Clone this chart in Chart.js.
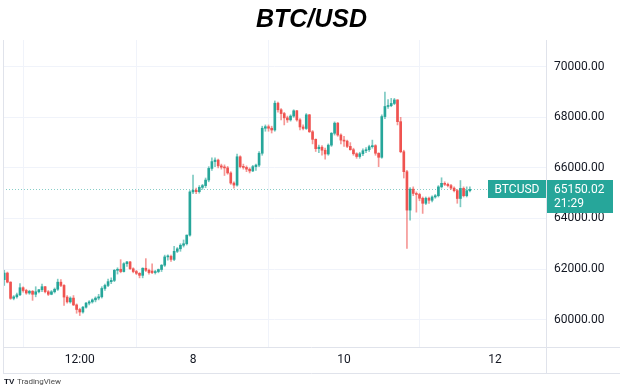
<!DOCTYPE html>
<html>
<head>
<meta charset="utf-8">
<script src="https://cdn.jsdelivr.net/npm/chart.js@4.4.1/dist/chart.umd.min.js"></script>
<style>
  html, body { margin: 0; padding: 0; background: #fff; }
</style>
</head>
<body>
<canvas id="chart" width="620" height="388"></canvas>
<script>
// hourly candles, hour 0 = the 8th 00:00
const firstHour = -60;

const opens = [
  61580, 61840, 61480, 60840, 60900, 60980, 61260, 61150, 61050, 61120,
  61000, 61100, 61180, 61300, 61100, 61000, 61100, 61200, 61480, 61350,
  60890, 60700, 60850, 60580, 60400, 60300, 60490, 60650, 60700, 60780,
  60850, 60900, 61230, 61350, 61500, 61550, 61950, 61990, 61900, 62210,
  62280, 62010, 61900, 61830, 61750, 62030, 61950, 61920, 61860, 61900,
  61980, 62150, 62480, 62500, 62380, 62700, 62800, 62940, 63000, 63340,
  65050, 65120, 65060, 65230, 65300, 65520, 65980, 66250, 66310, 66080,
  66030, 66000, 65800, 65400, 65320, 66440, 66050, 66020, 65950, 65880,
  66050, 66110, 66580, 67570, 67630, 67570, 67500, 68560, 68300, 68150,
  67980, 67900, 68050, 68260, 67900, 67620, 67560, 68100, 67430, 67130,
  66760, 66820, 66700, 66550, 66900, 67370, 67770, 67300, 67100, 67060,
  66850, 66720, 66560, 66450, 66560, 66680, 66720, 66840, 66880, 66580,
  66420, 68030, 68430, 68460, 68550, 68690, 67830, 66640, 65850, 64330,
  65160, 64990, 64950, 64800, 64600, 64800, 64720, 64850, 64900, 65250,
  65390, 65350, 65300, 65200, 65100, 64790, 65190, 64900, 65100
];
const highs = [
  61950, 61880, 61500, 60950, 61050, 61420, 61300, 61200, 61160, 61150,
  61300, 61200, 61400, 61320, 61150, 61150, 61250, 61600, 61580, 61380,
  60950, 60900, 60950, 60620, 60450, 60520, 60680, 60750, 60820, 60900,
  61000, 61300, 61400, 61600, 61650, 61980, 62050, 62370, 62250, 62300,
  62300, 62050, 61950, 61860, 62050, 62410, 62000, 62210, 61950, 62000,
  62180, 62550, 62560, 62550, 62900, 62850, 63000, 63150, 63350, 65100,
  65720, 65200, 65300, 65350, 65600, 66050, 66400, 66400, 66350, 66150,
  66120, 66060, 65850, 65450, 66550, 66480, 66150, 66080, 66000, 66100,
  66150, 66650, 67650, 67700, 67700, 67650, 68650, 68600, 68350, 68200,
  68050, 68100, 68300, 68280, 67950, 67700, 68150, 68120, 67480, 67150,
  66900, 66880, 66780, 66950, 67400, 67820, 67800, 67350, 67250, 67100,
  67000, 66780, 66600, 66620, 66750, 66800, 66900, 67100, 66920, 66600,
  68100, 69000, 68700, 68750, 68750, 68700, 68000, 66700, 65900, 65220,
  65250, 65050, 65000, 64850, 64850, 64850, 64900, 64950, 65300, 65610,
  65450, 65400, 65350, 65250, 65150, 65500, 65250, 65250, 65250
];
const lows = [
  61350, 61450, 60800, 60780, 60850, 60950, 61080, 61000, 61000, 60760,
  60900, 61050, 61100, 61050, 60950, 60980, 61050, 61150, 61300, 60560,
  60650, 60650, 60550, 60250, 60160, 60250, 60450, 60580, 60650, 60700,
  60780, 60850, 61150, 61300, 61420, 61500, 61800, 61850, 61880, 62100,
  61980, 61850, 61780, 61650, 61650, 61900, 61800, 61820, 61800, 61850,
  61900, 62100, 62350, 62300, 62330, 62650, 62700, 62870, 62950, 63300,
  64980, 64980, 65000, 65150, 65220, 65450, 65900, 66050, 66000, 65950,
  65700, 65750, 65350, 65200, 65280, 66000, 65950, 65850, 65800, 65850,
  65900, 66050, 66500, 67450, 67450, 67380, 67450, 68200, 67900, 67700,
  67800, 67850, 68000, 67850, 67500, 67500, 67520, 67400, 66950, 66650,
  66600, 66500, 66350, 66500, 66850, 67300, 67250, 66950, 66850, 66800,
  66700, 66500, 66380, 66380, 66480, 66600, 66650, 66780, 66500, 66050,
  66380, 67950, 68350, 68420, 68500, 67700, 66600, 65600, 62810, 63930,
  64900, 64250, 64700, 64200, 64550, 64600, 64650, 64800, 64850, 65200,
  65300, 65250, 65150, 65050, 64600, 64460, 64850, 64850, 65050
];
const closes = [
  61840, 61480, 60840, 60900, 60980, 61260, 61150, 61050, 61120, 61000,
  61100, 61180, 61300, 61100, 61000, 61100, 61200, 61480, 61350, 60890,
  60700, 60850, 60580, 60400, 60300, 60490, 60650, 60700, 60780, 60850,
  60900, 61230, 61350, 61500, 61550, 61950, 61990, 61900, 62210, 62280,
  62010, 61900, 61830, 61750, 62030, 61950, 61860, 61860, 61900, 61980,
  62150, 62480, 62500, 62380, 62700, 62800, 62940, 63000, 63340, 65050,
  65120, 65060, 65230, 65300, 65520, 65980, 66250, 66310, 66080, 66030,
  66000, 65800, 65400, 65320, 66440, 66050, 66020, 65950, 65880, 66050,
  66110, 66580, 67570, 67630, 67570, 67500, 68560, 68300, 68150, 67980,
  67900, 68050, 68260, 67900, 67620, 67560, 68100, 67430, 67130, 66760,
  66820, 66700, 66550, 66900, 67370, 67770, 67300, 67100, 67060, 66850,
  66720, 66560, 66450, 66560, 66680, 66720, 66840, 66880, 66580, 66420,
  68030, 68430, 68460, 68550, 68690, 67830, 66640, 65850, 64330, 65160,
  64990, 64950, 64800, 64600, 64800, 64720, 64850, 64900, 65250, 65390,
  65350, 65300, 65200, 65100, 64790, 65190, 64900, 65100, 65150
];

const xTickHours = [-36, 0, 48, 96];
const xTickLabels = ['12:00', '8', '10', '12'];
const yTicks = [60000, 62000, 64000, 66000, 68000, 70000];

const symbol = 'BTCUSD';
const lastPrice = 65150.02;
const countdown = '21:29';

const UP = '#26a69a';
const DOWN = '#ef5350';
const UP_WICK = 'rgba(38,166,154,0.6)';
const DOWN_WICK = 'rgba(239,83,80,0.6)';
const LINE = '#e0e3eb';
const GRID = '#f0f3fa';
const TEXT = '#131722';
const FONT = 'Roboto, "Liberation Sans", sans-serif';

const hours = opens.map((_, i) => firstHour + i);
const isUp = i => closes[i] >= opens[i];

const overlay = {
  id: 'overlay',
  beforeDatasetsDraw(chart) {
    const { ctx, chartArea } = chart;
    const y = Math.round(chart.scales.y.getPixelForValue(lastPrice)) + 0.5;
    ctx.save();
    ctx.strokeStyle = 'rgba(38,166,154,0.55)';
    ctx.lineWidth = 1;
    ctx.setLineDash([1, 2]);
    ctx.beginPath();
    ctx.moveTo(chartArea.left, y);
    ctx.lineTo(chartArea.right, y);
    ctx.stroke();
    ctx.restore();
  },
  afterDraw(chart) {
    const { ctx, chartArea, width } = chart;
    const bottom = chartArea.bottom + 26;
    ctx.save();
    // pane frame
    ctx.strokeStyle = LINE;
    ctx.lineWidth = 1;
    ctx.beginPath();
    ctx.moveTo(chartArea.left, chartArea.bottom + 0.5);
    ctx.lineTo(width, chartArea.bottom + 0.5);
    ctx.moveTo(chartArea.left, bottom + 0.5);
    ctx.lineTo(width, bottom + 0.5);
    ctx.moveTo(chartArea.right + 0.5, chartArea.top);
    ctx.lineTo(chartArea.right + 0.5, bottom);
    ctx.moveTo(chartArea.left + 0.5, chartArea.top);
    ctx.lineTo(chartArea.left + 0.5, bottom);
    ctx.stroke();

    // last price labels
    const y = Math.round(chart.scales.y.getPixelForValue(lastPrice));
    ctx.fillStyle = UP;
    ctx.fillRect(488, y - 9, chartArea.right - 488, 18);
    ctx.fillRect(chartArea.right + 1, y - 9, 66, 33);
    ctx.fillStyle = '#fff';
    ctx.font = '12px ' + FONT;
    ctx.textBaseline = 'middle';
    ctx.textAlign = 'center';
    ctx.fillText(symbol, (488 + chartArea.right) / 2, y + 0.5);
    ctx.textAlign = 'left';
    ctx.fillText(lastPrice.toFixed(2), chartArea.right + 8, y + 0.5);
    ctx.fillText(countdown, chartArea.right + 8, y + 15);

    // logo
    ctx.fillStyle = '#131722';
    ctx.font = 'bold 8px "Liberation Sans", sans-serif';
    ctx.fillText('TV', 4, 382);
    ctx.fillStyle = '#4a4a4a';
    ctx.font = '8px ' + FONT;
    ctx.fillText('TradingView', 17, 382);
    ctx.restore();
  }
};

new Chart(document.getElementById('chart'), {
  type: 'bar',
  data: {
    datasets: [
      {
        label: 'Body',
        data: hours.map((h, i) => ({ x: h, y: [opens[i], closes[i]] })),
        backgroundColor: ctx => isUp(ctx.dataIndex) ? UP : DOWN,
        borderWidth: 0,
        barThickness: 2,
        minBarLength: 1,
        grouped: false,
        order: 0,
      },
      {
        label: 'Wick',
        data: hours.map((h, i) => ({ x: h, y: [lows[i], highs[i]] })),
        backgroundColor: ctx => isUp(ctx.dataIndex) ? UP_WICK : DOWN_WICK,
        borderWidth: 0,
        barThickness: 1,
        grouped: false,
        order: 1,
      },
    ],
  },
  options: {
    responsive: false,
    devicePixelRatio: 1,
    animation: false,
    layout: { padding: { left: 3, right: 0, top: 0, bottom: 15 } },
    plugins: {
      legend: { display: false },
      tooltip: { enabled: false },
      title: {
        display: true,
        text: 'BTC/USD',
        color: '#000',
        font: { family: '"Liberation Sans", Arial, sans-serif', size: 25, weight: 'bold', style: 'italic', lineHeight: 1.2 },
        padding: { top: 5, bottom: 5 },
      },
    },
    scales: {
      x: {
        type: 'linear',
        min: -60.4,
        max: 112.2,
        offset: false,
        afterBuildTicks: s => { s.ticks = xTickHours.map(v => ({ value: v })); },
        afterFit: s => { s.height = 26; },
        ticks: {
          autoSkip: false,
          maxRotation: 0,
          padding: 6,
          color: TEXT,
          font: { family: FONT, size: 12 },
          callback: v => xTickLabels[xTickHours.indexOf(v)],
        },
        grid: { color: GRID, drawTicks: false },
        border: { display: false },
      },
      y: {
        position: 'right',
        min: 58915,
        max: 71060,
        afterBuildTicks: s => { s.ticks = yTicks.map(v => ({ value: v })); },
        afterFit: s => { s.width = 74; },
        ticks: {
          padding: 8,
          color: TEXT,
          font: { family: FONT, size: 12 },
          callback: v => v.toFixed(2),
        },
        grid: { color: GRID, drawTicks: false },
        border: { display: false },
      },
    },
  },
  plugins: [overlay],
});
</script>
</body>
</html>
